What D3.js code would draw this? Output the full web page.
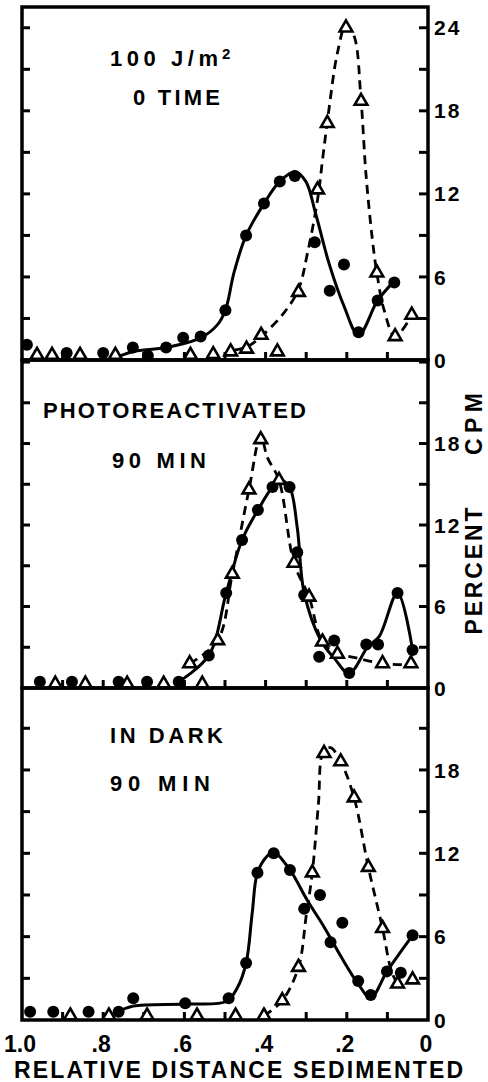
<!DOCTYPE html>
<html>
<head>
<meta charset="utf-8">
<script src="https://cdn.jsdelivr.net/npm/d3@7"></script>
<style>
  body { margin: 0; background: #fff; }
  svg text { font-family: "Liberation Sans", Arial, sans-serif; font-weight: bold; fill: #000; }
</style>
</head>
<body>
<svg id="chart" width="488" height="1082"></svg>
<script>
// x axis: relative distance sedimented (1.0 at left, 0 at right)
const xTickVals = [1.0, 0.8, 0.6, 0.4, 0.2, 0];
const xTickLabels = ["1.0", ".8", ".6", ".4", ".2", "0"];
const xMinorTicks = [0.9, 0.8, 0.7, 0.6, 0.5, 0.4, 0.3, 0.2, 0.1];
const xTitle = "RELATIVE DISTANCE SEDIMENTED";
const yTitleTop = "CPM";
const yTitleBottom = "PERCENT";

// panel 1 : 100 J/m2, 0 time
const p1Labels = ["100 J/m", "0 TIME"];
const p1YTicks = [0, 6, 12, 18, 24];
const p1Dots = [[.988,1.1],[.89,.5],[.80,.5],[.727,.9],[.69,.3],[.645,.9],[.603,1.6],[.56,1.7],[.499,3.6],[.448,9.0],[.404,11.3],[.365,12.9],[.328,13.3],[.279,8.5],[.242,5.0],[.207,6.9],[.171,2.0],[.124,4.3],[.083,5.6]];
const p1Tris = [[.963,.35],[.926,.35],[.857,.35],[.770,.35],[.585,.35],[.529,.4],[.486,.6],[.447,.8],[.411,1.8],[.371,.6],[.319,4.9],[.272,12.3],[.248,17.1],[.202,24],[.165,18.7],[.126,6.3],[.081,1.7],[.040,3.25]];
const p1Solid = [[.775,.1],[.727,.6],[.645,.9],[.56,1.6],[.52,2.5],[.499,3.6],[.478,6.3],[.448,9.0],[.404,11.3],[.365,12.9],[.328,13.6],[.301,12.9],[.277,10.6],[.244,7.0],[.207,3.9],[.171,1.8],[.124,4.3],[.083,5.7]];
const p1Dash = [[.478,.72],[.445,.96],[.407,1.8],[.355,3.4],[.319,5.1],[.297,7.7],[.272,11.6],[.258,14.9],[.244,18.1],[.223,22.2],[.202,24.2],[.182,23.4],[.165,18.8],[.153,13.5],[.137,8.7],[.126,6.3],[.108,3.6],[.081,1.7],[.040,3.25]];

// panel 2 : photoreactivated 90 min
const p2Labels = ["PHOTOREACTIVATED", "90 MIN"];
const p2YTicks = [0, 6, 12, 18];
const p2Dots = [[.956,.46],[.877,.46],[.762,.46],[.692,.46],[.614,.46],[.54,2.4],[.497,7.0],[.458,10.9],[.419,13.1],[.383,14.8],[.341,14.8],[.322,10.0],[.305,6.85],[.268,2.3],[.231,3.5],[.194,1.1],[.152,3.2],[.123,3.2],[.075,7.0],[.038,2.8]];
const p2Tris = [[.918,.3],[.844,.3],[.741,.3],[.651,.3],[.587,1.8],[.556,.3],[.518,3.5],[.482,8.4],[.441,14.6],[.412,18.3],[.367,15.3],[.33,9.2],[.293,6.7],[.26,3.4],[.223,2.5],[.112,1.8],[.042,1.8]];
const p2Solid = [[.614,.46],[.54,2.4],[.497,7.0],[.458,10.9],[.419,13.1],[.383,14.8],[.363,15.3],[.341,14.8],[.322,11.8],[.305,7.0],[.264,3.5],[.231,2.2],[.194,1.08],[.149,3.0],[.12,3.8],[.075,7.0],[.038,2.8]];
const p2Dash = [[.587,1.8],[.518,3.5],[.482,8.4],[.441,14.6],[.412,18.6],[.396,17.0],[.367,15.3],[.33,9.2],[.293,6.7],[.26,3.4],[.223,2.5],[.19,2.3],[.112,1.8],[.042,1.7]];

// panel 3 : in dark 90 min
const p3Labels = ["IN DARK", "90 MIN"];
const p3YTicks = [0, 6, 12, 18];
const p3Dots = [[.98,.6],[.923,.6],[.836,.6],[.762,.6],[.726,1.56],[.598,1.2],[.491,1.56],[.448,4.1],[.42,10.6],[.38,12.0],[.34,10.8],[.305,8.0],[.266,9.0],[.24,5.6],[.211,7.0],[.172,2.8],[.141,1.8],[.101,3.5],[.067,3.4],[.038,6.1]];
const p3Tris = [[.881,.3],[.786,.3],[.692,.3],[.569,.3],[.474,.3],[.404,.3],[.359,1.4],[.319,3.8],[.285,10.6],[.256,19.2],[.215,18.6],[.182,16.0],[.147,11.0],[.112,6.6],[.075,2.6],[.038,2.9]];
const p3Solid = [[.763,.6],[.726,1.0],[.598,1.15],[.496,1.35],[.47,2.3],[.448,4.1],[.433,7.7],[.42,10.6],[.396,11.8],[.38,12.1],[.34,10.8],[.297,8.6],[.256,6.7],[.215,4.6],[.172,2.6],[.141,1.6],[.101,3.5],[.038,6.1]];
const p3Dash = [[.404,.3],[.359,1.4],[.319,3.8],[.30,7.5],[.285,10.6],[.27,15.5],[.258,19.3],[.24,19.6],[.215,18.6],[.182,16.0],[.147,11.0],[.112,6.6],[.09,3.5],[.075,2.6]];

const svg = d3.select("#chart");
const x = d3.scaleLinear().domain([1, 0]).range([22, 428]);

const panels = [
  {labels: p1Labels, ticks: p1YTicks, dots: p1Dots, tris: p1Tris, solid: p1Solid, dash: p1Dash,
   top: 7, bottom: 360, max: 25.5, sup: true,
   labelPos: [[110, 66, 110], [133, 105, 89]]},
  {labels: p2Labels, ticks: p2YTicks, dots: p2Dots, tris: p2Tris, solid: p2Solid, dash: p2Dash,
   top: 360, bottom: 688, max: 24.15,
   labelPos: [[43, 418, 265], [112, 468, 96]]},
  {labels: p3Labels, ticks: p3YTicks, dots: p3Dots, tris: p3Tris, solid: p3Solid, dash: p3Dash,
   top: 688, bottom: 1020, max: 23.9,
   labelPos: [[110, 743, 115], [110, 791, 102]]}
];

const tri = d3.symbol().type(d3.symbolTriangle).size(70);

panels.forEach(function(p, i) {
  const y = d3.scaleLinear().domain([0, p.max]).range([p.bottom, p.top]);
  const g = svg.append("g");

  // minor y ticks every 3 units, on both sides, pointing in
  const yt = d3.range(3, p.max, 3);
  g.selectAll(".ytl").data(yt).enter().append("line")
    .attr("x1", x(1)).attr("x2", x(1) + 8)
    .attr("y1", d => y(d)).attr("y2", d => y(d))
    .attr("stroke", "#000").attr("stroke-width", 3);
  g.selectAll(".ytr").data(yt).enter().append("line")
    .attr("x1", x(0)).attr("x2", x(0) - 9)
    .attr("y1", d => y(d)).attr("y2", d => y(d))
    .attr("stroke", "#000").attr("stroke-width", 3);

  // x ticks at bottom of each panel
  g.selectAll(".xt").data(xMinorTicks).enter().append("line")
    .attr("x1", d => x(d)).attr("x2", d => x(d))
    .attr("y1", p.bottom).attr("y2", p.bottom - 8)
    .attr("stroke", "#000").attr("stroke-width", 3);

  // right tick labels
  g.selectAll(".yl").data(p.ticks).enter().append("text")
    .attr("x", 434).attr("y", d => y(d))
    .attr("dy", "0.36em")
    .style("font-size", "21px").style("letter-spacing", "2px")
    .text(d => d);

  // fitted curves
  const line = d3.line().x(d => x(d[0])).y(d => y(d[1])).curve(d3.curveCatmullRom.alpha(0.5));
  g.append("path").datum(p.solid).attr("d", line)
    .attr("fill", "none").attr("stroke", "#000").attr("stroke-width", 3);
  g.append("path").datum(p.dash).attr("d", line)
    .attr("fill", "none").attr("stroke", "#000").attr("stroke-width", 2.8)
    .attr("stroke-dasharray", "9,6");

  // markers
  g.selectAll(".dot").data(p.dots).enter().append("circle")
    .attr("cx", d => x(d[0])).attr("cy", d => y(d[1])).attr("r", 6)
    .attr("fill", "#000");
  g.selectAll(".tri").data(p.tris).enter().append("path")
    .attr("d", tri)
    .attr("transform", d => "translate(" + x(d[0]) + "," + y(d[1]) + ")")
    .attr("fill", "#fff").attr("stroke", "#000").attr("stroke-width", 2.6);

  // frame
  g.append("rect")
    .attr("x", x(1)).attr("y", p.top)
    .attr("width", x(0) - x(1)).attr("height", p.bottom - p.top)
    .attr("fill", "none").attr("stroke", "#000").attr("stroke-width", 3.5);

  // panel labels
  p.labels.forEach(function(t, j) {
    const pos = p.labelPos[j];
    g.append("text")
      .attr("x", pos[0]).attr("y", pos[1])
      .attr("textLength", pos[2]).attr("lengthAdjust", "spacing")
      .style("font-size", "22px")
      .style("letter-spacing", "2px")
      .text(t);
    if (p.sup && j === 0) {
      g.append("text")
        .attr("x", pos[0] + pos[2] + 2).attr("y", pos[1] - 7)
        .style("font-size", "15px").text("2");
    }
  });
});

// x tick labels
svg.selectAll(".xl").data(xTickVals).enter().append("text")
  .attr("x", d => x(d) - 2).attr("y", 1052)
  .attr("text-anchor", "middle")
  .style("font-size", "23px")
  .text((d, i) => xTickLabels[i]);

// x title
svg.append("text")
  .attr("x", 14).attr("y", 1078)
  .attr("textLength", 449).attr("lengthAdjust", "spacing")
  .style("font-size", "23px")
  .text(xTitle);

// right y title (rotated)
svg.append("text")
  .attr("transform", "translate(482,571) rotate(-90)")
  .attr("text-anchor", "middle")
  .attr("textLength", 127).attr("lengthAdjust", "spacing")
  .style("font-size", "23px")
  .text(yTitleBottom);
svg.append("text")
  .attr("transform", "translate(482,424) rotate(-90)")
  .attr("text-anchor", "middle")
  .attr("textLength", 62).attr("lengthAdjust", "spacing")
  .style("font-size", "23px")
  .text(yTitleTop);
</script>
</body>
</html>
